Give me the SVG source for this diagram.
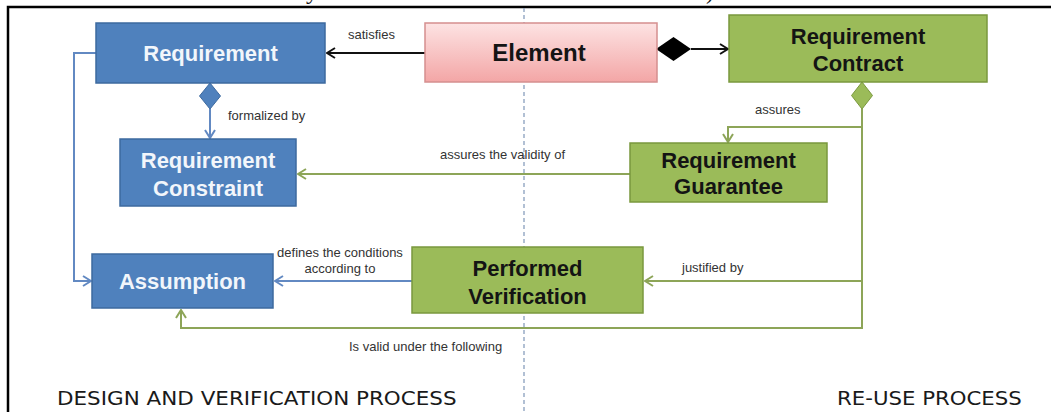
<svg xmlns="http://www.w3.org/2000/svg" width="1051" height="412" viewBox="0 0 1051 412">
  <style>
    .box-blue { fill: #4f81bd; stroke: #3d6a9f; stroke-width: 1.5; }
    .box-green { fill: #9bbb59; stroke: #7a983e; stroke-width: 1.5; }
    .box-pink { fill: url(#pinkFill); stroke: #d58f8f; stroke-width: 1.5; }
    .t-blue { font-family: "Liberation Sans", Arial, sans-serif; font-weight: bold; font-size: 22px; fill: #f2f6fb; text-anchor: middle; }
    .t-green { font-family: "Liberation Sans", Arial, sans-serif; font-weight: bold; font-size: 22px; fill: #141414; text-anchor: middle; }
    .t-elem { font-family: "Liberation Sans", Arial, sans-serif; font-weight: bold; font-size: 24px; fill: #141414; text-anchor: middle; }
    .lbl { font-family: "Liberation Sans", Arial, sans-serif; font-size: 13px; fill: #333333; }
    .zone { font-family: "DejaVu Sans", Verdana, sans-serif; font-size: 19px; fill: #1a1a1a; }
    .c-black { fill: none; stroke: #111111; stroke-width: 2; }
    .c-blue { fill: none; stroke: #6289c2; stroke-width: 2; }
    .c-green { fill: none; stroke: #8da558; stroke-width: 2; }
  </style>
  <defs>
    <linearGradient id="pinkFill" x1="0" y1="0" x2="0" y2="1">
      <stop offset="0" stop-color="#fde3e3"/>
      <stop offset="1" stop-color="#f3a6a6"/>
    </linearGradient>
    <marker id="arrowBlack" viewBox="0 0 10 12" refX="9" refY="6" markerWidth="10" markerHeight="12" orient="auto" markerUnits="userSpaceOnUse">
      <path d="M1,1 L9,6 L1,11" fill="none" stroke="#111111" stroke-width="2"/>
    </marker>
    <marker id="arrowBlue" viewBox="0 0 10 12" refX="9" refY="6" markerWidth="10" markerHeight="12" orient="auto" markerUnits="userSpaceOnUse">
      <path d="M1,1 L9,6 L1,11" fill="none" stroke="#6289c2" stroke-width="2"/>
    </marker>
    <marker id="arrowGreen" viewBox="0 0 10 12" refX="9" refY="6" markerWidth="10" markerHeight="12" orient="auto" markerUnits="userSpaceOnUse">
      <path d="M1,1 L9,6 L1,11" fill="none" stroke="#8da558" stroke-width="2"/>
    </marker>
  </defs>

  <rect x="0" y="0" width="1051" height="412" fill="#ffffff"/>

  <!-- frame and the heading line above it -->
  <text x="306" y="-1" font-family="Liberation Serif, serif" font-size="24" fill="#111">y</text>
  <text x="706" y="-1" font-family="Liberation Serif, serif" font-size="24" fill="#111">)</text>
  <path d="M8,412 V7 H1051" fill="none" stroke="#000000" stroke-width="2.5"/>

  <!-- process boundary -->
  <line x1="524" y1="8" x2="524" y2="412" stroke="#7f97b8" stroke-width="1.2" stroke-dasharray="4 3"/>

  <!-- connectors -->
  <g id="connectors">
    <path class="c-black" d="M425,53 H327" marker-end="url(#arrowBlack)"/>
    <polygon points="656,49 673.5,37 691,49 673.5,61" fill="#000000"/>
    <path class="c-black" d="M691,49 H728" marker-end="url(#arrowBlack)"/>

    <polygon points="210,83 220.5,96 210,109 199.5,96" fill="#4f81bd" stroke="#3d6a9f" stroke-width="1"/>
    <path class="c-blue" d="M210,109 V138" marker-end="url(#arrowBlue)"/>
    <path class="c-blue" d="M96,53 H74 V281 H91" marker-end="url(#arrowBlue)"/>
    <path class="c-blue" d="M412,281 H275" marker-end="url(#arrowBlue)"/>

    <polygon points="862,82 872.5,95.5 862,109 851.5,95.5" fill="#9bbb59" stroke="#7a983e" stroke-width="1"/>
    <path class="c-green" d="M862,109 V328 H181 V310" marker-end="url(#arrowGreen)"/>
    <path class="c-green" d="M862,127 H728 V142" marker-end="url(#arrowGreen)"/>
    <path class="c-green" d="M862,281 H645" marker-end="url(#arrowGreen)"/>
    <path class="c-green" d="M630,174 H298" marker-end="url(#arrowGreen)"/>

    <text class="lbl" x="348" y="39">satisfies</text>
    <text class="lbl" x="228" y="120">formalized by</text>
    <text class="lbl" x="755" y="114">assures</text>
    <text class="lbl" x="440" y="159" font-size="14">assures the validity of</text>
    <text class="lbl" x="340" y="257" text-anchor="middle">defines the conditions</text>
    <text class="lbl" x="340" y="273" text-anchor="middle">according to</text>
    <text class="lbl" x="682" y="272">justified by</text>
    <text class="lbl" x="349" y="351" font-size="12">Is valid under the following</text>
  </g>

  <!-- nodes -->
  <g id="requirement">
    <rect class="box-blue" x="96" y="23" width="229" height="60"/>
    <text class="t-blue" x="210.5" y="61">Requirement</text>
  </g>
  <g id="element">
    <rect class="box-pink" x="425" y="23" width="232" height="59"/>
    <text class="t-elem" x="539" y="61">Element</text>
  </g>
  <g id="requirement-contract">
    <rect class="box-green" x="729" y="15" width="258" height="67"/>
    <text class="t-green" x="858" y="44">Requirement</text>
    <text class="t-green" x="858" y="71">Contract</text>
  </g>
  <g id="requirement-constraint">
    <rect class="box-blue" x="120" y="139" width="176" height="67"/>
    <text class="t-blue" x="208" y="168">Requirement</text>
    <text class="t-blue" x="208" y="196">Constraint</text>
  </g>
  <g id="requirement-guarantee">
    <rect class="box-green" x="630" y="143" width="197" height="59"/>
    <text class="t-green" x="728.5" y="168">Requirement</text>
    <text class="t-green" x="728.5" y="194">Guarantee</text>
  </g>
  <g id="assumption">
    <rect class="box-blue" x="92" y="254" width="181" height="54"/>
    <text class="t-blue" x="182.5" y="289">Assumption</text>
  </g>
  <g id="performed-verification">
    <rect class="box-green" x="412" y="247" width="231" height="66"/>
    <text class="t-green" x="527.5" y="276">Performed</text>
    <text class="t-green" x="527.5" y="304">Verification</text>
  </g>

  <!-- process zones (lettering drawn wide) -->
  <text class="zone" transform="translate(57,405) scale(1.13,1)">DESIGN AND VERIFICATION PROCESS</text>
  <text class="zone" transform="translate(837,405) scale(1.12,1)">RE-USE PROCESS</text>
</svg>
